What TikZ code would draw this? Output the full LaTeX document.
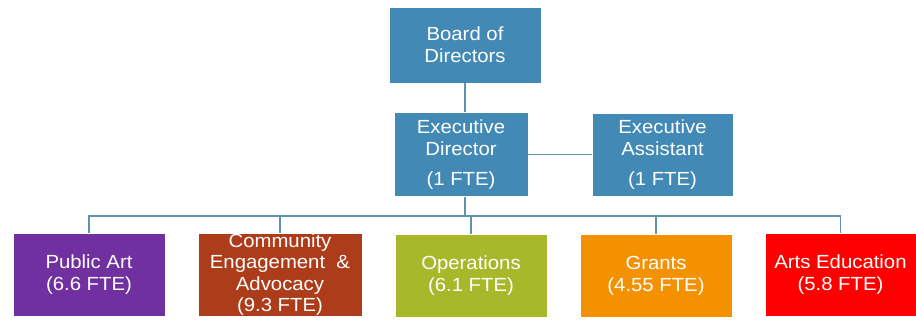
\documentclass[tikz,border=0pt]{standalone}
\usepackage{fontspec}
\setmainfont{Liberation Sans}[FakeStretch=1.07]
\definecolor{orgblue}{RGB}{66,137,181}
\definecolor{orgline}{RGB}{96,146,176}
\definecolor{orgpurple}{RGB}{112,48,160}
\definecolor{orgbrown}{RGB}{172,60,26}
\definecolor{orggreen}{RGB}{168,184,42}
\definecolor{orgorange}{RGB}{244,145,0}
\definecolor{orgred}{RGB}{255,0,0}

\begin{document}
\begin{tikzpicture}[x=1pt, y=-1pt,
  unit/.style={rectangle, draw=white, line width=0.6pt, text=white, align=center,
    inner sep=0pt, font=\fontsize{19}{22}\selectfont},
  dept/.style={unit, minimum width=152pt, minimum height=83pt},
  link/.style={draw=orgline, line width=1.3pt}]
  \useasboundingbox (0,0) rectangle (916,320);
  \node[unit, fill=orgblue, minimum width=152pt, minimum height=76pt] (board) at (465,45) {Board of\\Directors};
  \node[unit, fill=orgblue, minimum width=134pt, minimum height=84pt] (exec) at (461,154.5) {Executive\\Director\\[8pt](1 FTE)};
  \node[unit, fill=orgblue, minimum width=141pt, minimum height=83pt] (assist) at (662.5,154.5) {Executive\\Assistant\\[8pt](1 FTE)};
  \node[dept, fill=orgpurple] (public) at (89,274.5) {Public Art\\(6.6 FTE)};
  \node[dept, fill=orgbrown, minimum width=164pt, font=\fontsize{19}{21.5}\selectfont] (community) at (280,274.5) {Community\\Engagement~ \&\\Advocacy\\(9.3 FTE)};
  \node[dept, fill=orggreen] (ops) at (471,275.5) {Operations\\(6.1 FTE)};
  \node[dept, fill=orgorange] (grants) at (656,275.5) {Grants\\(4.55 FTE)};
  \node[dept, fill=orgred, minimum width=151pt] (arts) at (840.5,274.5) {Arts Education\\(5.8 FTE)};
  \coordinate (bus) at (465,216);
  \draw[link] (board.south) -- (board.south |- exec.north);
  \draw[link] (exec.east) -- (assist.west);
  \draw[link] (board.south |- exec.south) -- (bus);
  \draw[link] (bus) -| (public.north);
  \draw[link] (bus) -| (community.north);
  \draw[link] (bus) -| (ops.north);
  \draw[link] (bus) -| (grants.north);
  \draw[link] (bus) -| (arts.north);
\end{tikzpicture}
\end{document}
